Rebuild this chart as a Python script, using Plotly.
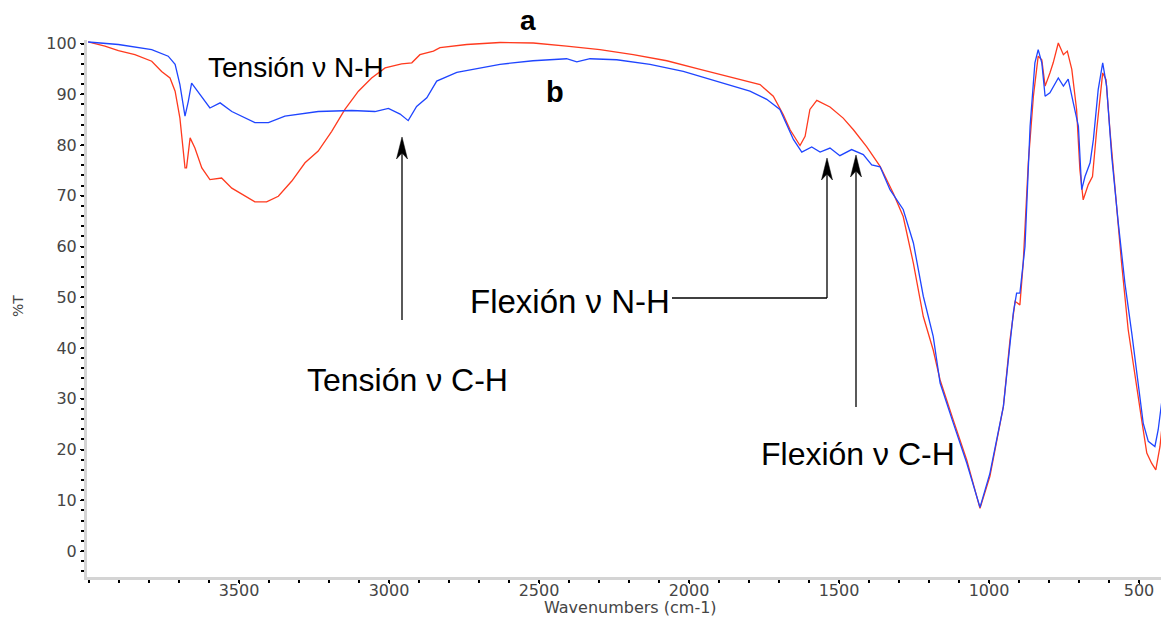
import plotly.graph_objects as go

# ---- data (wavenumber cm-1, %T) ----
wn_a = [4003, 3947, 3902, 3847, 3791, 3758, 3730, 3713, 3697, 3689, 3680, 3675, 3663, 3647, 3624,
        3597, 3558, 3524, 3480, 3447, 3408, 3369, 3324, 3280, 3236, 3191, 3147, 3102, 3058, 3013,
        2958, 2924, 2897, 2852, 2830, 2741, 2630, 2519, 2408, 2297, 2186, 2074, 1963, 1852, 1763,
        1719, 1686, 1663, 1630, 1613, 1597, 1574, 1530, 1486, 1452, 1408, 1363, 1319, 1286, 1252,
        1219, 1186, 1163, 1119, 1074, 1030, 997, 952, 930, 913, 897, 886, 869, 852, 836,
        824, 813, 797, 786, 769, 752, 739, 724, 708, 697, 686, 669, 655, 641, 621,
        610, 597, 580, 558, 536, 508, 491, 474, 458, 444, 430, 413, 402]
t_a = [100.3, 99.5, 98.6, 97.8, 96.5, 94.5, 93.2, 90.6, 85.3, 80.1, 75.5, 75.5, 81.4, 79.4, 75.5,
       73.2, 73.5, 71.5, 69.9, 68.8, 68.8, 69.9, 72.9, 76.5, 78.8, 82.7, 87.0, 90.6, 93.2, 95.2,
       96.0, 96.2, 97.8, 98.5, 99.2, 99.8, 100.2, 100.1, 99.5, 98.8, 97.8, 96.6, 94.9, 93.2, 91.9,
       89.6, 86.0, 83.0, 79.9, 81.7, 87.0, 88.8, 87.5, 85.3, 83.0, 79.7, 75.8, 70.5, 65.9, 56.7,
       46.2, 39.6, 33.7, 25.8, 17.9, 8.4, 14.7, 28.5, 41.6, 49.2, 48.5, 56.7, 76.5, 89.6, 97.5,
       96.8, 91.6, 94.2, 96.2, 100.1, 97.8, 98.5, 94.9, 87.0, 75.1, 69.2, 72.2, 73.8, 83.0, 94.2,
       92.9, 83.0, 71.2, 56.7, 43.6, 33.1, 25.8, 19.3, 17.3, 16.0, 20.6, 30.4, 38.3]

wn_b = [4003, 3902, 3791, 3736, 3713, 3697, 3680, 3669, 3658, 3630, 3597, 3563, 3524, 3447, 3402,
        3347, 3236, 3124, 3047, 3002, 2963, 2936, 2908, 2874, 2841, 2774, 2630, 2520, 2408, 2374,
        2330, 2241, 2130, 2019, 1908, 1797, 1741, 1697, 1652, 1624, 1591, 1563, 1530, 1497, 1458,
        1419, 1391, 1363, 1330, 1286, 1252, 1219, 1186, 1163, 1119, 1074, 1030, 997, 952, 919,
        908, 897, 880, 863, 847, 836, 824, 813, 797, 769, 752, 736, 719, 702, 691,
        680, 663, 652, 636, 621, 608, 591, 569, 547, 524, 502, 486, 469, 447, 436,
        419, 402]
t_b = [100.3, 99.8, 98.8, 97.5, 95.9, 91.9, 85.7, 88.6, 92.2, 89.9, 87.3, 88.3, 86.6, 84.4, 84.4,
       85.7, 86.6, 86.8, 86.6, 87.2, 86.1, 84.8, 87.6, 89.3, 92.6, 94.3, 95.9, 96.6, 97.0, 96.4,
       97.0, 96.8, 95.9, 94.5, 92.6, 90.6, 89.0, 87.0, 81.1, 78.6, 79.6, 78.6, 79.4, 77.9, 79.1,
       78.1, 76.1, 75.7, 71.2, 67.3, 60.7, 50.2, 42.3, 33.1, 25.2, 17.3, 8.6, 15.3, 28.5, 46.9,
       50.8, 50.8, 60.0, 83.7, 96.2, 98.8, 96.2, 89.6, 90.3, 93.2, 91.6, 93.0, 88.3, 83.7, 71.2,
       73.8, 76.5, 81.1, 90.9, 96.2, 91.6, 77.8, 64.6, 52.8, 42.9, 33.1, 25.2, 21.6, 20.6, 23.9,
       31.8, 47.5]

x_ticks = [3500, 3000, 2500, 2000, 1500, 1000, 500]
y_ticks = [0, 10, 20, 30, 40, 50, 60, 70, 80, 90, 100]

# ---- layout geometry (page body has an 8px margin) ----
OFF = 8
W, H = 1161, 610
ML, MR, MT, MB = 79, 0, 32, 41
PX0, PY0 = OFF + ML, OFF + MT          # plot-area top-left on screen
PW, PH = W - ML - MR, H - MT - MB


def px(x, y):
    return (x - PX0) / PW, 1 - (y - PY0) / PH


fig = go.Figure()
fig.add_trace(go.Scatter(x=wn_a, y=t_a, mode="lines", name="a",
                         line=dict(color="#FF3A1E", width=1.3)))
fig.add_trace(go.Scatter(x=wn_b, y=t_b, mode="lines", name="b",
                         line=dict(color="#1F45FF", width=1.3)))

axfont = dict(family="DejaVu Sans", size=16, color="#454545")
fig.update_xaxes(range=[4006.7, 400], tickvals=x_ticks, showgrid=False, zeroline=False,
                 showline=True, linecolor="#d4d4d4", linewidth=3,
                 ticks="outside", ticklen=4, tickcolor="#000", tickwidth=1,
                 ticklabelstandoff=-7,
                 minor=dict(dtick=100, ticks="outside", ticklen=3, tickcolor="#000", tickwidth=1.5),
                 tickfont=axfont)
fig.update_yaxes(range=[-5.12, 100.69], tickvals=y_ticks, showgrid=False, zeroline=False,
                 showline=True, linecolor="#d4d4d4", linewidth=3,
                 ticks="outside", ticklen=4, tickcolor="#000", tickwidth=1,
                 minor=dict(dtick=2, ticks="outside", ticklen=3, tickcolor="#000", tickwidth=1.5),
                 tickfont=axfont)

annots = []


def text(s, x, y, size, bold=False, family="Liberation Sans", color="#000", angle=0):
    xp, yp = px(x, y)
    annots.append(dict(x=xp, y=yp, xref="paper", yref="paper", text=("<b>%s</b>" % s) if bold else s,
                       showarrow=False, xanchor="center", yanchor="middle", textangle=angle,
                       font=dict(family=family, size=size, color=color)))


text("a", 528, 21, 28, bold=True)
text("b", 555, 92, 29, bold=True)
text("Tensión ν N-H", 296, 68, 28)
text("Tensión ν C-H", 407, 380, 32)
text("Flexión ν N-H", 570, 301, 33)
text("Flexión ν C-H", 858, 454, 32)
text("Wavenumbers (cm-1)", 630, 607, 16, family="DejaVu Sans", color="#454545")
text("%T", 18, 306, 14, family="DejaVu Sans", color="#454545", angle=-90)

shapes = []


def seg(x0, y0, x1, y1):
    a = px(x0, y0)
    b = px(x1, y1)
    shapes.append(dict(type="line", xref="paper", yref="paper", x0=a[0], y0=a[1], x1=b[0], y1=b[1],
                       line=dict(color="#000", width=1.3)))


def head(x, y):
    pts = [(x, y), (x + 5.5, y + 22), (x, y + 16), (x - 5.5, y + 22)]
    p = [px(*q) for q in pts]
    path = "M %f,%f L %f,%f L %f,%f L %f,%f Z" % (p[0] + p[1] + p[2] + p[3])
    shapes.append(dict(type="path", xref="paper", yref="paper", path=path,
                       fillcolor="#000", line=dict(color="#000", width=0.5)))


# Tensión C-H arrow
seg(402, 320, 402, 150)
head(402, 137)
# Flexión N-H arrow
seg(672, 298, 827, 298)
seg(827, 298, 827, 172)
head(827, 158)
# Flexión C-H arrow
seg(856, 407, 856, 170)
head(856, 155)

fig.update_layout(width=W, height=H, margin=dict(l=ML, r=MR, t=MT, b=MB),
                  paper_bgcolor="white", plot_bgcolor="white", showlegend=False,
                  annotations=annots, shapes=shapes)

fig.write_html("out.html")
